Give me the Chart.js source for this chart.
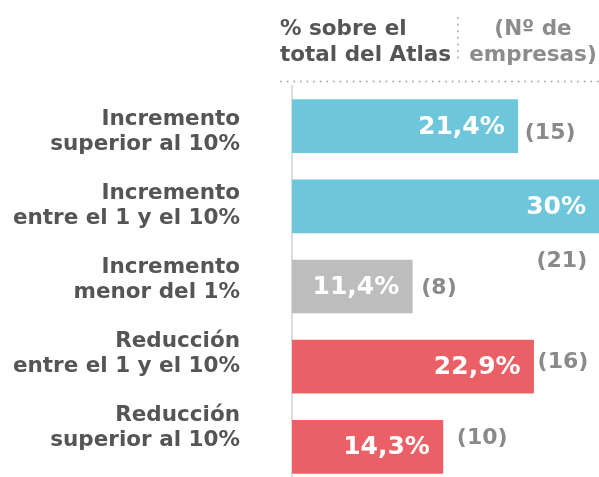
<!DOCTYPE html>
<html>
<head>
<meta charset="utf-8">
<script src="https://cdn.jsdelivr.net/npm/chart.js@4/dist/chart.umd.min.js"></script>
<style>
  html, body { margin: 0; padding: 0; background: #ffffff; overflow: hidden; }
  canvas { display: block; }
</style>
</head>
<body>
<canvas id="c" width="599" height="487"></canvas>
<script>
// ---- Data ----
const categories = [
  ["Incremento", "superior al 10%"],
  ["Incremento", "entre el 1 y el 10%"],
  ["Incremento", "menor del 1%"],
  ["Reducción", "entre el 1 y el 10%"],
  ["Reducción", "superior al 10%"]
];
const percentages = [21.4, 30, 11.4, 22.9, 14.3];
const companyCounts = [15, 21, 8, 16, 10];
const headerLeft = ["% sobre el", "total del Atlas"];
const headerRight = ["(Nº de", "empresas)"];

// ---- Styles ----
const barColors = ["#6ec6da", "#6ec6da", "#bdbdbd", "#eb6066", "#eb6066"];
const FONT = '"DejaVu Sans"';
// label offsets relative to bar end / bar centre
const countOffsets = [[7, 7], [-72, 55], [9, 2], [4, -4], [14, -9]];
// category label layout: first block centre offset from chart top and pitch between blocks
const catLabelLayout = { right: 240, firstOffset: 46, pitch: 74, lineHeight: 25 };

const fmtPct = v => String(v).replace('.', ',') + '%';

const labelPlugin = {
  id: 'labels',
  afterDatasetsDraw(chart) {
    const ctx = chart.ctx;
    const meta = chart.getDatasetMeta(0);
    ctx.save();
    meta.data.forEach((bar, i) => {
      const end = Math.min(bar.x, chart.chartArea.right);
      ctx.font = "bold 25px " + FONT;
      ctx.fillStyle = "#ffffff";
      ctx.textAlign = "right";
      ctx.textBaseline = "middle";
      ctx.fillText(fmtPct(percentages[i]), end - 13, bar.y + 1);
      ctx.font = "bold 22px " + FONT;
      ctx.fillStyle = "#8a8a8a";
      ctx.textAlign = "left";
      ctx.fillText("(" + companyCounts[i] + ")", bar.x + countOffsets[i][0], bar.y + countOffsets[i][1]);
    });
    ctx.restore();
  },
  afterDraw(chart) {
    const ctx = chart.ctx;
    const L = catLabelLayout;
    ctx.save();
    // category labels
    ctx.font = "bold 21.5px " + FONT;
    ctx.fillStyle = "#555555";
    ctx.textAlign = "right";
    ctx.textBaseline = "middle";
    chart.data.labels.forEach((lines, i) => {
      const c = chart.chartArea.top + L.firstOffset + L.pitch * i;
      const y0 = c - (lines.length - 1) * L.lineHeight / 2;
      lines.forEach((t, k) => ctx.fillText(t, L.right, y0 + k * L.lineHeight));
    });
    // header
    ctx.textBaseline = "alphabetic";
    ctx.textAlign = "left";
    ctx.fillText(headerLeft[0], 280, 35);
    ctx.fillText(headerLeft[1], 280, 61);
    ctx.fillStyle = "#8c8c8c";
    ctx.textAlign = "center";
    ctx.fillText(headerRight[0], 533, 35);
    ctx.fillText(headerRight[1], 533, 61);
    // dotted separators
    ctx.fillStyle = "#aaaaaa";
    for (let y = 18; y <= 64; y += 6.6) {
      ctx.beginPath(); ctx.arc(458, y, 1, 0, Math.PI * 2); ctx.fill();
    }
    for (let x = 281; x <= 599; x += 6.6) {
      ctx.beginPath(); ctx.arc(x, 81.5, 1, 0, Math.PI * 2); ctx.fill();
    }
    ctx.restore();
  }
};

Chart.defaults.font.family = FONT;

new Chart(document.getElementById('c'), {
  type: 'bar',
  data: {
    labels: categories,
    datasets: [{
      data: percentages,
      backgroundColor: barColors,
      borderWidth: 0,
      barThickness: 53
    }]
  },
  options: {
    indexAxis: 'y',
    responsive: false,
    maintainAspectRatio: false,
    animation: false,
    layout: { padding: { top: 86, left: 0, right: 0, bottom: 0 } },
    plugins: { legend: { display: false }, tooltip: { enabled: false } },
    scales: {
      x: { display: false, min: 0, max: 29.1 },
      y: {
        afterFit(scale) {
          scale.width = 292;
          scale.paddingTop = 0;
          scale.paddingBottom = 0;
        },
        grid: { display: false, drawTicks: false },
        border: { display: true, color: '#dddddd', width: 2 },
        ticks: { display: false }
      }
    }
  },
  plugins: [labelPlugin]
});
</script>
</body>
</html>
